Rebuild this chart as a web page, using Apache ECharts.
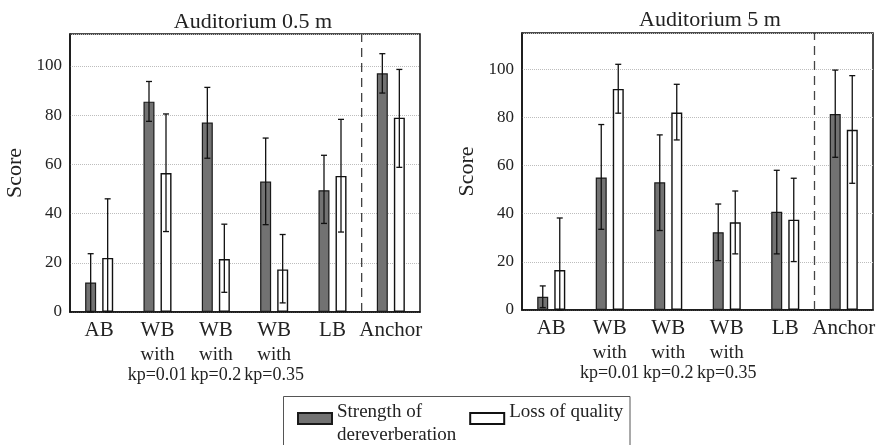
<!DOCTYPE html>
<html>
<head>
<meta charset="utf-8">
<script src="https://cdn.jsdelivr.net/npm/echarts@6/dist/echarts.min.js"></script>
<style>html,body{margin:0;padding:0;background:#fff;}#c{width:878px;height:445px;}</style>
</head>
<body>
<div id="c"></div>
<script>
// ---- data ----
const categories = ['AB', 'WB\nwith\nkp=0.01', 'WB\nwith\nkp=0.2', 'WB\nwith\nkp=0.35', 'LB', 'Anchor'];
const panelTitles = ['Auditorium 0.5 m', 'Auditorium 5 m'];
const seriesNames = ['Strength of\ndereverberation', 'Loss of quality'];
const yAxisName = 'Score';
const yTicks = [0, 20, 40, 60, 80, 100];

// Auditorium 0.5 m
const strengthL    = [12, 85.5, 77, 53, 49.5, 97];
const strengthL_lo = [0, 77.5, 62.5, 35.5, 36, 89];
const strengthL_hi = [23.7, 93.7, 91.3, 70.7, 63.7, 105];
const lossL        = [22, 56.5, 21.5, 17.3, 55.3, 79];
const lossL_lo     = [0, 32.7, 8, 3.7, 32.5, 58.8];
const lossL_hi     = [46, 80.5, 35.7, 31.5, 78.3, 98.6];

// Auditorium 5 m
const strengthR    = [5.5, 55, 53, 32.3, 40.8, 81.4];
const strengthR_lo = [1, 33.5, 33, 20.5, 23.3, 63.4];
const strengthR_hi = [10, 77, 72.7, 44, 58, 99.6];
const lossR        = [16.6, 91.8, 82, 36.4, 37.5, 74.8];
const lossR_lo     = [0, 81.7, 70.6, 23.3, 20.1, 52.6];
const lossR_hi     = [38.2, 102, 93.7, 49.4, 54.7, 97.3];

// separator between LB and Anchor (category boundary position)
const separatorPos = [5];

// ---- chart ----
const FONT = 'Liberation Serif';
const chart = echarts.init(document.getElementById('c'), null, {renderer: 'canvas'});

function errData(lo, hi) { return lo.map((v, i) => [i, v, hi[i]]); }
function errSeries(name, lo, hi, idx, off) {
  return {
    type: 'custom', name: name + '_err', xAxisIndex: idx, yAxisIndex: idx, z: 5,
    data: errData(lo, hi), encode: {x: 0, y: [1, 2]}, silent: true,
    renderItem: function (params, api) {
      const x = api.coord([api.value(0), 0])[0] + off;
      const yl = api.coord([api.value(0), api.value(1)])[1];
      const yh = api.coord([api.value(0), api.value(2)])[1];
      const st = {stroke: '#111', lineWidth: 1.3};
      return {type: 'group', children: [
        {type: 'line', shape: {x1: x, y1: yl, x2: x, y2: yh}, style: st},
        {type: 'line', shape: {x1: x - 3, y1: yh, x2: x + 3, y2: yh}, style: st},
        {type: 'line', shape: {x1: x - 3, y1: yl, x2: x + 3, y2: yl}, style: st}
      ]};
    }
  };
}
function labelFmt(v) {
  const parts = v.split('\n');
  let s = '{a|' + parts[0] + '}';
  if (parts[1]) s += '\n{b|' + parts[1] + '}';
  if (parts[2]) s += '\n{c|' + parts[2] + '}';
  return s;
}
function legendFmt(name) {
  const parts = name.split('\n');
  if (parts.length > 1) return '{s1| }\n' + parts.map(p => '{t|' + p + '}').join('\n');
  return '{s1| }\n{t|' + name + '}\n{s2| }';
}
const grids = [
  {left: 70, top: 34, width: 350, height: 278, max: 113},
  {left: 522, top: 33, width: 351, height: 277, max: 115}
];
const darkStyle = {color: '#727272', borderColor: '#1a1a1a', borderWidth: 1.2};
const whiteStyle = {color: '#ffffff', borderColor: '#111', borderWidth: 1.4};

const option = {
  animation: false,
  backgroundColor: '#fff',
  textStyle: {fontFamily: FONT},
  title: [
    {text: panelTitles[0], left: 248, top: 6, textAlign: 'center',
     textStyle: {fontFamily: FONT, fontSize: 22, fontWeight: 'normal', color: '#222'}},
    {text: panelTitles[1], left: 705, top: 4, textAlign: 'center',
     textStyle: {fontFamily: FONT, fontSize: 22, fontWeight: 'normal', color: '#222'}}
  ],
  graphic: [{
    type: 'rect', silent: true, z: 0,
    shape: {x: 283.5, y: 396.5, width: 346.5, height: 70},
    style: {fill: 'none', stroke: '#555', lineWidth: 1}
  }],
  legend: {
    left: 297, top: 395, orient: 'horizontal',
    padding: 0, itemGap: 13, itemWidth: 34, itemHeight: 11,
    icon: 'rect',
    formatter: legendFmt,
    textStyle: {fontFamily: FONT, fontSize: 19, color: '#222',
      rich: {
        t: {fontFamily: FONT, fontSize: 19, lineHeight: 23, color: '#222'},
        s1: {fontSize: 1, lineHeight: 11},
        s2: {fontSize: 1, lineHeight: 23}
      }},
    data: [seriesNames[0], seriesNames[1]]
  },
  grid: grids.map(g => ({left: g.left, top: g.top, width: g.width, height: g.height,
    outerBoundsMode: 'none', containLabel: false,
    show: true, borderColor: '#111', borderWidth: 1.5, backgroundColor: 'transparent'})),
  xAxis: [0, 1].map(i => ({
    type: 'category', gridIndex: i, data: categories, boundaryGap: true,
    axisLine: {lineStyle: {color: '#111', width: 1.5}}, axisTick: {show: false},
    axisLabel: {interval: 0, margin: 3, formatter: labelFmt, color: '#222', hideOverlap: false,
      rich: {
        a: {fontFamily: FONT, fontSize: 21, lineHeight: 30, color: '#222'},
        b: {fontFamily: FONT, fontSize: 19, lineHeight: 20, color: '#222'},
        c: {fontFamily: FONT, fontSize: 18, lineHeight: 20, color: '#222'}
      }}
  })).concat([0, 1].map(i => ({
    type: 'value', gridIndex: i, min: 0, max: categories.length, show: false
  }))),
  yAxis: [0, 1].map(i => ({
    type: 'value', gridIndex: i, min: yTicks[0], max: grids[i].max, interval: 20,
    name: yAxisName, nameLocation: 'middle', nameGap: 44,
    nameTextStyle: {fontFamily: FONT, fontSize: 22, color: '#222'},
    axisLine: {show: true, lineStyle: {color: '#111', width: 1.5}}, axisTick: {show: false},
    axisLabel: {fontFamily: FONT, fontSize: 17, color: '#222', margin: 8, showMaxLabel: false,
      formatter: v => (yTicks.indexOf(v) >= 0 ? String(v) : '')},
    splitLine: {show: true, lineStyle: {color: '#bdbdbd', type: 'dotted', width: 1}}
  })),
  series: [
    {type: 'bar', name: seriesNames[0], xAxisIndex: 0, yAxisIndex: 0, data: strengthL,
     barWidth: 11, barGap: '55%', itemStyle: darkStyle},
    {type: 'bar', name: seriesNames[1], xAxisIndex: 0, yAxisIndex: 0, data: lossL,
     barWidth: 11, barGap: '55%', itemStyle: whiteStyle},
    {type: 'bar', name: seriesNames[0], xAxisIndex: 1, yAxisIndex: 1, data: strengthR,
     barWidth: 11, barGap: '55%', itemStyle: darkStyle},
    {type: 'bar', name: seriesNames[1], xAxisIndex: 1, yAxisIndex: 1, data: lossR,
     barWidth: 11, barGap: '55%', itemStyle: whiteStyle},
    errSeries('sL', strengthL_lo, strengthL_hi, 0, -8.5),
    errSeries('lL', lossL_lo, lossL_hi, 0, 8.5),
    errSeries('sR', strengthR_lo, strengthR_hi, 1, -8.5),
    errSeries('lR', lossR_lo, lossR_hi, 1, 8.5),
    {type: 'line', name: 'sepL', xAxisIndex: 2, yAxisIndex: 0, symbol: 'none', silent: true,
     data: [[separatorPos[0], 0], [separatorPos[0], grids[0].max]],
     lineStyle: {color: '#444', width: 1.3, type: [9, 6]}, z: 1},
    {type: 'line', name: 'sepR', xAxisIndex: 3, yAxisIndex: 1, symbol: 'none', silent: true,
     data: [[separatorPos[0], 0], [separatorPos[0], grids[1].max]],
     lineStyle: {color: '#444', width: 1.3, type: [9, 6]}, z: 1}
  ]
};
chart.setOption(option);
</script>
</body>
</html>
